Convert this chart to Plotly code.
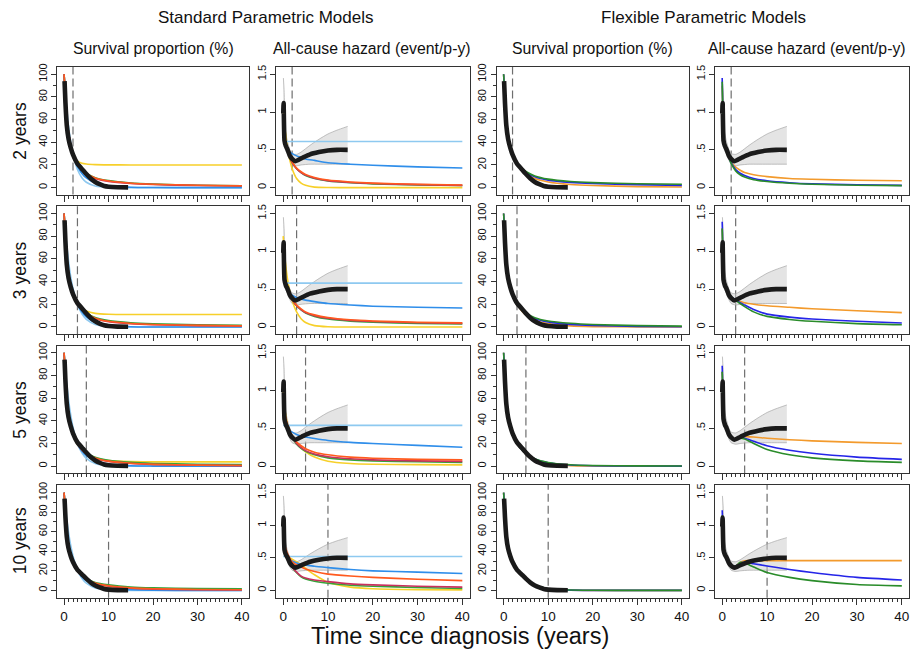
import plotly.graph_objects as go

# ---------------------------------------------------------------------------
# Data
# ---------------------------------------------------------------------------
# common evaluation grid for the fitted model curves (years since diagnosis)
T = [0, 0.25, 0.5, 1, 1.5, 2, 3, 4, 5, 7, 10, 15, 20, 30, 40]

# follow-up cut-off used to fit the models in each row
CUTOFF_YEARS = [2, 3, 5, 10]
ROW_LABELS = ["2 years", "3 years", "5 years", "10 years"]

# observed (Kaplan-Meier) survival, %
OBS_T = [0.1, 0.3, 0.6, 1.0, 1.5, 2, 3, 4, 5, 6, 7, 8, 9, 10, 12, 14.4]
OBS_SURV = [94, 75, 55, 43, 35, 29, 21, 16.5, 12, 8, 5, 3, 1.5, 0.8, 0.3, 0.2]

# observed smoothed all-cause hazard and its 95% confidence band
HAZ_T = [0.02, 0.1, 0.3, 0.6, 1, 1.5, 2, 2.7, 3.5, 4.5, 6, 8, 10, 12, 14.4]
HAZ_OBS = [0.98, 1.12, 0.62, 0.55, 0.50, 0.42, 0.38, 0.35, 0.37, 0.40, 0.44,
           0.47, 0.49, 0.50, 0.50]
CI_T = [0.05, 0.2, 0.5, 1, 1.5, 2, 3, 4, 6, 8, 10, 12, 14.4]
CI_LO = [0.85, 0.7, 0.5, 0.44, 0.36, 0.31, 0.29, 0.30, 0.31, 0.31, 0.31, 0.31, 0.31]
CI_HI = [1.45, 1.3, 0.75, 0.6, 0.5, 0.45, 0.44, 0.47, 0.56, 0.64, 0.71, 0.76, 0.81]

# --- standard parametric models: survival (%), one list per cut-off row ----
GOMPERTZ_SURV = [
    [100, 82, 68, 49, 37, 29, 23.5, 21.5, 20.8, 20.3, 20.1, 20, 20, 20, 20],
    [100, 81, 66, 47, 35.5, 28, 21, 16.5, 14, 12, 11.2, 11, 11, 11, 11],
    [100, 80, 64, 45, 34, 27.5, 19, 14.5, 11.5, 7.5, 5, 4, 3.8, 3.8, 3.8],
    [100, 80, 64, 46, 35, 28, 19.5, 15, 11.5, 6.5, 3, 1.2, 0.8, 0.7, 0.7],
]
EXPONENTIAL_SURV = [
    [100, 86, 74, 54, 40, 29.5, 16, 8.7, 4.7, 1.4, 0.2, 0, 0, 0, 0],
    [100, 87, 76, 58, 44, 34, 20, 11.5, 6.7, 2.3, 0.45, 0.03, 0, 0, 0],
    [100, 87.5, 76.5, 58.6, 44.8, 34.3, 20, 11.8, 6.9, 2.4, 0.47, 0.03, 0, 0, 0],
    [100, 87.8, 77.1, 59.5, 45.8, 35.3, 21, 12.5, 7.4, 2.6, 0.55, 0.04, 0, 0, 0],
]
WEIBULL_SURV = [
    [100, 80, 67, 49, 37.5, 30, 19, 12.5, 8.5, 4, 1.5, 0.3, 0.05, 0, 0],
    [100, 80, 66, 48, 37, 29.5, 20, 13.5, 9, 4.2, 1.4, 0.25, 0.04, 0, 0],
    [100, 80, 66, 48, 37, 29, 19.5, 13.3, 9.2, 4.5, 1.6, 0.3, 0.06, 0, 0],
    [100, 80, 66, 48, 37, 29.5, 20, 14, 10, 5.3, 2.2, 0.6, 0.15, 0.01, 0],
]
LOGLOGISTIC_SURV = [
    [100, 81, 67, 49, 37.5, 30, 21, 16, 12.5, 8.5, 5.8, 3.9, 3, 2.1, 1.7],
    [100, 81, 66, 48, 37, 29.5, 21, 15.5, 12, 7.8, 5, 3.1, 2.2, 1.4, 1.0],
    [100, 80, 65, 47, 36, 29, 20, 14.5, 11.2, 7.2, 4.4, 2.5, 1.6, 0.9, 0.6],
    [100, 80, 65, 47, 36, 29, 20, 15, 11.5, 7.5, 4.7, 2.6, 1.7, 1.0, 0.7],
]
LOGNORMAL_SURV = [
    [100, 81, 67, 49, 37.5, 30, 20.5, 15.5, 12, 8, 5.5, 3.6, 2.7, 1.8, 1.4],
    [100, 81, 66, 48, 37, 29.5, 20.5, 15, 11.5, 7.4, 4.6, 2.8, 2.0, 1.2, 0.9],
    [100, 80, 65, 47, 36, 29, 20, 14.5, 11, 7, 4.2, 2.3, 1.5, 0.8, 0.5],
    [100, 80, 65, 47, 36, 29, 20, 14.8, 11.2, 7, 4.2, 2.2, 1.3, 0.7, 0.4],
]
GENGAMMA_SURV = [
    [100, 81, 67, 49, 37.5, 30, 21, 16, 12.8, 8.8, 6.2, 4.1, 3.1, 2.1, 1.6],
    [100, 81, 66, 48, 37, 29.5, 21, 15.8, 12.5, 8.3, 5.6, 3.7, 2.8, 1.9, 1.5],
    [100, 80, 65, 47, 36, 29, 20.5, 15, 11.8, 7.8, 5.2, 3.3, 2.4, 1.7, 1.4],
    [100, 80, 65, 47, 36, 29, 20.5, 15.5, 12, 8.2, 5.8, 3.5, 2.6, 1.9, 1.7],
]

# --- standard parametric models: hazard (events per person-year) ----------
GOMPERTZ_HAZ = [
    [1.05, 0.88, 0.73, 0.51, 0.36, 0.25, 0.12, 0.06, 0.03, 0.007, 0.001, 0, 0, 0, 0],
    [1.2, 1.0, 0.85, 0.62, 0.46, 0.35, 0.2, 0.11, 0.06, 0.018, 0.003, 0, 0, 0, 0],
    [1.0, 0.82, 0.7, 0.55, 0.46, 0.39, 0.3, 0.24, 0.19, 0.12, 0.065, 0.035, 0.025, 0.02, 0.017],
    [0.7, 0.62, 0.58, 0.53, 0.5, 0.48, 0.44, 0.39, 0.34, 0.24, 0.125, 0.05, 0.025, 0.012, 0.008],
]
EXPONENTIAL_HAZ = [
    [0.61, 0.61, 0.61, 0.61, 0.61, 0.61, 0.61, 0.61, 0.61, 0.61, 0.61, 0.61, 0.61, 0.61, 0.61],
    [0.58, 0.58, 0.58, 0.58, 0.58, 0.58, 0.58, 0.58, 0.58, 0.58, 0.58, 0.58, 0.58, 0.58, 0.58],
    [0.54, 0.54, 0.54, 0.54, 0.54, 0.54, 0.54, 0.54, 0.54, 0.54, 0.54, 0.54, 0.54, 0.54, 0.54],
    [0.52, 0.52, 0.52, 0.52, 0.52, 0.52, 0.52, 0.52, 0.52, 0.52, 0.52, 0.52, 0.52, 0.52, 0.52],
]
WEIBULL_HAZ = [
    [0.95, 0.66, 0.58, 0.51, 0.47, 0.45, 0.42, 0.40, 0.38, 0.36, 0.33, 0.31, 0.295, 0.275, 0.26],
    [0.9, 0.62, 0.55, 0.48, 0.44, 0.42, 0.39, 0.37, 0.355, 0.335, 0.31, 0.29, 0.275, 0.26, 0.25],
    [0.85, 0.62, 0.56, 0.5, 0.47, 0.45, 0.42, 0.40, 0.385, 0.365, 0.34, 0.315, 0.3, 0.275, 0.25],
    [0.85, 0.6, 0.55, 0.5, 0.47, 0.45, 0.42, 0.4, 0.39, 0.37, 0.35, 0.32, 0.3, 0.28, 0.26],
]
LOGLOGISTIC_HAZ = [
    [0.9, 0.72, 0.62, 0.5, 0.41, 0.34, 0.26, 0.21, 0.175, 0.135, 0.1, 0.075, 0.06, 0.045, 0.035],
    [0.9, 0.72, 0.62, 0.52, 0.43, 0.37, 0.29, 0.24, 0.2, 0.16, 0.125, 0.095, 0.08, 0.063, 0.055],
    [0.9, 0.75, 0.65, 0.54, 0.46, 0.4, 0.32, 0.27, 0.23, 0.185, 0.15, 0.12, 0.105, 0.09, 0.083],
    [0.9, 0.75, 0.66, 0.56, 0.49, 0.44, 0.39, 0.36, 0.33, 0.29, 0.25, 0.22, 0.2, 0.17, 0.15],
]
LOGNORMAL_HAZ = [
    [0.9, 0.72, 0.61, 0.49, 0.4, 0.33, 0.25, 0.2, 0.165, 0.125, 0.092, 0.068, 0.054, 0.04, 0.03],
    [0.9, 0.72, 0.62, 0.51, 0.42, 0.36, 0.28, 0.23, 0.19, 0.15, 0.115, 0.087, 0.072, 0.056, 0.048],
    [0.9, 0.75, 0.65, 0.53, 0.45, 0.39, 0.3, 0.245, 0.205, 0.16, 0.125, 0.097, 0.083, 0.07, 0.063],
    [0.9, 0.72, 0.62, 0.5, 0.42, 0.36, 0.28, 0.22, 0.19, 0.16, 0.135, 0.1, 0.085, 0.065, 0.05],
]
GENGAMMA_HAZ = [
    [0.9, 0.72, 0.61, 0.49, 0.4, 0.33, 0.25, 0.2, 0.16, 0.12, 0.088, 0.064, 0.05, 0.035, 0.027],
    [0.9, 0.72, 0.62, 0.51, 0.42, 0.36, 0.28, 0.225, 0.185, 0.14, 0.105, 0.078, 0.063, 0.047, 0.04],
    [0.9, 0.75, 0.64, 0.52, 0.44, 0.38, 0.29, 0.235, 0.195, 0.15, 0.11, 0.083, 0.07, 0.058, 0.05],
    [0.9, 0.72, 0.62, 0.5, 0.42, 0.36, 0.27, 0.21, 0.175, 0.14, 0.11, 0.08, 0.065, 0.045, 0.03],
]

# --- flexible parametric (spline) models ----------------------------------
FPM1_SURV = [
    [100, 80, 65, 47, 36, 29, 21, 16, 12.5, 8, 5, 2.8, 1.8, 0.9, 0.5],
    [100, 80, 65, 47, 36, 29, 20.5, 14.5, 10.5, 6, 3, 1.0, 0.35, 0.05, 0],
    [100, 80, 65, 47, 36, 29, 20, 15, 11.5, 6, 2.5, 0.5, 0.1, 0, 0],
    [100, 80, 65, 47, 36, 29, 20, 15, 11.5, 5.5, 1.3, 0.13, 0.01, 0, 0],
]
FPM2_SURV = [
    [100, 80, 65, 47, 36, 29, 21.5, 16.5, 13.5, 9.5, 6.6, 4.6, 3.6, 2.6, 2.0],
    [100, 80, 65, 47, 36, 29, 21, 15.5, 12, 7.5, 4.5, 2.3, 1.3, 0.5, 0.25],
    [100, 80, 65, 47, 36, 29, 20, 15, 11.5, 6.3, 3, 1.0, 0.4, 0.1, 0.02],
    [100, 80, 65, 47, 36, 29, 20, 15, 11.5, 5.5, 1.5, 0.25, 0.06, 0, 0],
]
FPM3_SURV = [
    [100, 80, 65, 47, 36, 29, 22, 17.2, 14.2, 10.3, 7.5, 5.4, 4.4, 3.4, 3.0],
    [100, 80, 65, 47, 36, 29, 21, 15.8, 12.5, 8.2, 5.3, 3.3, 2.2, 1.2, 0.8],
    [100, 80, 65, 47, 36, 29, 20, 15, 11.5, 6.5, 3.3, 1.3, 0.6, 0.2, 0.1],
    [100, 80, 65, 47, 36, 29, 20, 15, 11.5, 5.7, 1.7, 0.4, 0.15, 0.04, 0.02],
]
FPM1_HAZ = [
    [1.35, 0.8, 0.62, 0.5, 0.4, 0.34, 0.27, 0.23, 0.2, 0.17, 0.145, 0.12, 0.11, 0.097, 0.09],
    [1.3, 0.8, 0.62, 0.52, 0.44, 0.4, 0.36, 0.34, 0.32, 0.3, 0.28, 0.26, 0.24, 0.215, 0.19],
    [1.25, 0.8, 0.62, 0.52, 0.42, 0.37, 0.36, 0.38, 0.39, 0.385, 0.37, 0.35, 0.335, 0.315, 0.3],
    [1.1, 0.8, 0.62, 0.52, 0.42, 0.36, 0.37, 0.43, 0.455, 0.457, 0.457, 0.457, 0.457, 0.457, 0.457],
]
FPM2_HAZ = [
    [1.45, 0.8, 0.62, 0.5, 0.4, 0.33, 0.24, 0.19, 0.16, 0.12, 0.09, 0.065, 0.05, 0.038, 0.03],
    [1.39, 0.8, 0.62, 0.52, 0.44, 0.4, 0.36, 0.32, 0.29, 0.23, 0.17, 0.13, 0.105, 0.075, 0.053],
    [1.33, 0.8, 0.62, 0.52, 0.42, 0.37, 0.36, 0.37, 0.37, 0.33, 0.27, 0.21, 0.17, 0.12, 0.09],
    [1.23, 0.8, 0.62, 0.52, 0.42, 0.36, 0.37, 0.42, 0.43, 0.41, 0.375, 0.32, 0.275, 0.2, 0.16],
]
FPM3_HAZ = [
    [1.4, 0.8, 0.62, 0.5, 0.4, 0.32, 0.22, 0.17, 0.14, 0.105, 0.08, 0.057, 0.045, 0.032, 0.026],
    [1.3, 0.8, 0.62, 0.52, 0.44, 0.4, 0.355, 0.31, 0.27, 0.2, 0.14, 0.1, 0.075, 0.045, 0.03],
    [1.25, 0.8, 0.62, 0.52, 0.42, 0.37, 0.36, 0.37, 0.36, 0.3, 0.22, 0.15, 0.11, 0.07, 0.05],
    [1.15, 0.8, 0.62, 0.52, 0.42, 0.35, 0.37, 0.43, 0.42, 0.36, 0.275, 0.2, 0.15, 0.09, 0.07],
]

STANDARD = [  # (survival, hazard, colour) in drawing order
    (GOMPERTZ_SURV, GOMPERTZ_HAZ, "#F7D02A"),
    (EXPONENTIAL_SURV, EXPONENTIAL_HAZ, "#8EC9F0"),
    (WEIBULL_SURV, WEIBULL_HAZ, "#2F8EEA"),
    (GENGAMMA_SURV, GENGAMMA_HAZ, "#35A33A"),
    (LOGNORMAL_SURV, LOGNORMAL_HAZ, "#C9305E"),
    (LOGLOGISTIC_SURV, LOGLOGISTIC_HAZ, "#FF5A1E"),
]
FLEXIBLE = [
    (FPM1_SURV, FPM1_HAZ, "#F39A2C"),
    (FPM2_SURV, FPM2_HAZ, "#2525E8"),
    (FPM3_SURV, FPM3_HAZ, "#2A8C2A"),
]

# ---------------------------------------------------------------------------
# Layout geometry (pixels)
# ---------------------------------------------------------------------------
W, H = 911, 653
COL_X = [(57, 249), (276, 469.5), (496.5, 689), (715, 909)]
ROW_Y = [(63.3, 191.7), (203.3, 332.3), (344, 472.3), (484, 597.3)]
ROW_YRANGE = [(-6.1, 106.5), (-6.4, 106.5), (-6.4, 106.1), (-7.4, 107.8)]
SUBTITLE_X = [153, 372, 592, 807]
FONT = "Liberation Sans, Arial, Helvetica, sans-serif"
AXIS_COL = "#333333"

fig = go.Figure()
layout = {}
shapes = []


def axis_name(idx, kind):
    return kind if idx == 1 else f"{kind}{idx}"


for r in range(4):
    for c in range(4):
        idx = r * 4 + c + 1
        xa, ya = f"x{idx}" if idx > 1 else "x", f"y{idx}" if idx > 1 else "y"
        is_haz = c in (1, 3)
        models = STANDARD if c < 2 else FLEXIBLE

        if is_haz:
            # confidence band of the observed hazard
            band_line = dict(color="rgba(165,165,165,0.85)", width=0.8,
                             shape="spline", smoothing=0.6)
            fig.add_trace(go.Scatter(
                x=CI_T, y=CI_LO, xaxis=xa, yaxis=ya, mode="lines",
                line=band_line, hoverinfo="skip"))
            fig.add_trace(go.Scatter(
                x=CI_T, y=CI_HI, xaxis=xa, yaxis=ya, mode="lines",
                fill="tonexty", fillcolor="rgba(205,205,205,0.55)",
                line=band_line, hoverinfo="skip"))

        for surv, haz, col in models:
            fig.add_trace(go.Scatter(
                x=T, y=haz[r] if is_haz else surv[r], xaxis=xa, yaxis=ya,
                mode="lines", line=dict(color=col, width=1.6, shape="spline", smoothing=0.6)))

        if is_haz:
            fig.add_trace(go.Scatter(
                x=HAZ_T, y=HAZ_OBS, xaxis=xa, yaxis=ya, mode="lines",
                line=dict(color="#1a1a1a", width=4.6, shape="spline", smoothing=0.5)))
        else:
            fig.add_trace(go.Scatter(
                x=OBS_T, y=OBS_SURV, xaxis=xa, yaxis=ya, mode="lines",
                line=dict(color="#1a1a1a", width=4.6, shape="spline", smoothing=0.5)))

        # follow-up cut-off
        shapes.append(dict(type="line", xref=xa, yref=f"{ya} domain",
                           x0=CUTOFF_YEARS[r], x1=CUTOFF_YEARS[r], y0=0, y1=1,
                           line=dict(color="#6e6e6e", width=1.2, dash="8px,4px"),
                           layer="below"))

        x0, x1 = COL_X[c]
        y0, y1 = ROW_Y[r]
        lo, hi = ROW_YRANGE[r]
        scale = 0.015 if is_haz else 1.0
        layout[axis_name(idx, "xaxis")] = dict(
            domain=[x0 / W, x1 / W], anchor=ya, range=[-1.6, 41.6],
            showgrid=False, zeroline=False, showline=True, mirror=True,
            linecolor=AXIS_COL, linewidth=1,
            ticks="outside", ticklen=6, tickcolor=AXIS_COL, tickwidth=1,
            tickvals=[0, 10, 20, 30, 40], showticklabels=(r == 3),
            tickfont=dict(size=13.5, color="#111", family=FONT),
            minor=dict(tickvals=list(range(0, 41)), ticklen=3, tickcolor=AXIS_COL,
                       ticks="outside", showgrid=False),
        )
        if is_haz:
            yt = dict(tickvals=[0, 0.5, 1, 1.5], ticktext=["0", ".5", "1", "1.5"])
        else:
            yt = dict(tickvals=[0, 20, 40, 60, 80, 100],
                      ticktext=["0", "20", "40", "60", "80", "100"],
                      minor=dict(tickvals=[10, 30, 50, 70, 90], ticklen=3,
                                 tickcolor=AXIS_COL, ticks="outside", showgrid=False))
        layout[axis_name(idx, "yaxis")] = dict(
            domain=[1 - y1 / H, 1 - y0 / H], anchor=xa,
            range=[lo * scale, hi * scale],
            showgrid=False, zeroline=False, showline=True, mirror=True,
            linecolor=AXIS_COL, linewidth=1,
            ticks="outside", ticklen=5, tickcolor=AXIS_COL, tickwidth=1,
            tickangle=-90, tickfont=dict(size=11, color="#111", family=FONT),
            **yt,
        )

annotations = []


def text(x, y, s, size, angle=0):
    annotations.append(dict(x=x / W, y=1 - y / H, xref="paper", yref="paper",
                            text=s, showarrow=False, textangle=angle,
                            xanchor="center", yanchor="middle",
                            font=dict(size=size, color="#111", family=FONT)))


text(265, 14, "Standard Parametric Models", 17)
text(703, 14, "Flexible Parametric Models", 17)
for c, s in enumerate(["Survival proportion (%)", "All-cause hazard (event/p-y)",
                       "Survival proportion (%)", "All-cause hazard (event/p-y)"]):
    text(SUBTITLE_X[c], 45, s, 15.8)
for r, s in enumerate(ROW_LABELS):
    text(20, (ROW_Y[r][0] + ROW_Y[r][1]) / 2, s, 17.5, angle=-90)
text(460, 636, "Time since diagnosis (years)", 23.5)

fig.update_layout(
    width=W, height=H, margin=dict(l=0, r=0, t=0, b=0),
    paper_bgcolor="white", plot_bgcolor="white", showlegend=False,
    shapes=shapes, annotations=annotations, **layout,
)

fig.write_html("out.html")
